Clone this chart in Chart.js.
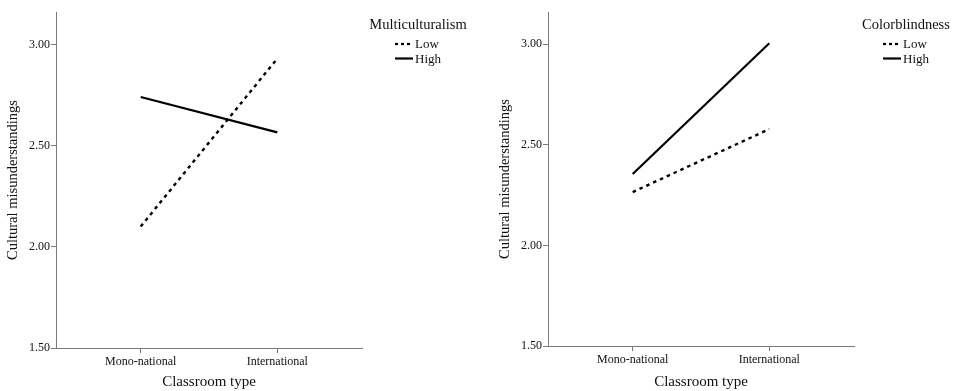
<!DOCTYPE html>
<html>
<head>
<meta charset="utf-8">
<script src="https://cdn.jsdelivr.net/npm/chart.js@4.4.1/dist/chart.umd.min.js"></script>
<style>
  html, body { margin: 0; padding: 0; background: #fff; }
  body { width: 955px; height: 391px; position: relative; overflow: hidden; }
  canvas { position: absolute; top: 0; }
</style>
</head>
<body>
<canvas id="c1" width="480" height="391" style="left:0px"></canvas>
<canvas id="c2" width="463" height="391" style="left:492px"></canvas>
<script>
// ---- data ----
const categories = ['Mono-national', 'International'];
const yTickValues = [1.5, 2.0, 2.5, 3.0];
const seriesLabels = ['Low', 'High'];
const multiculturalismLow = [2.10, 2.93];
const multiculturalismHigh = [2.74, 2.565];
const colorblindnessLow = [2.265, 2.578];
const colorblindnessHigh = [2.355, 3.005];
const xTitle = 'Classroom type';
const yTitle = 'Cultural misunderstandings';

const SERIF = '"Liberation Serif", "Times New Roman", serif';
const AXIS_COLOR = '#7a7a7a';
const TEXT_COLOR = '#111';

const legendPlugin = {
  id: 'sideLegend',
  afterDraw(chart) {
    const o = chart.options.plugins.sideLegend;
    if (!o) return;
    const ctx = chart.ctx;
    const r = chart.chartArea.right;
    ctx.save();
    ctx.fillStyle = TEXT_COLOR;
    ctx.font = '14.5px ' + SERIF;
    ctx.textAlign = 'center';
    ctx.textBaseline = 'middle';
    ctx.fillText(o.title, r + o.titleDx, 25);
    ctx.font = '13px ' + SERIF;
    ctx.textAlign = 'left';
    chart.data.datasets.forEach((ds, i) => {
      const y = 44 + i * 14.5;
      ctx.strokeStyle = '#000';
      ctx.lineWidth = 2.2;
      ctx.setLineDash(ds.borderDash ? [3, 3] : []);
      ctx.beginPath();
      ctx.moveTo(r + o.lineDx, y);
      ctx.lineTo(r + o.lineDx + 18, y);
      ctx.stroke();
      ctx.setLineDash([]);
      ctx.fillText(ds.label, r + o.lineDx + 20, y + 1);
    });
    ctx.restore();
  }
};

function makeChart(id, low, high, legendTitle, opts) {
  const toPts = arr => arr.map((v, i) => ({ x: i, y: v }));
  return new Chart(document.getElementById(id), {
    type: 'line',
    data: {
      datasets: [
        { label: seriesLabels[0], data: toPts(low), borderColor: '#000', borderWidth: 2.4,
          borderDash: [3.5, 4], pointRadius: 0, tension: 0, fill: false },
        { label: seriesLabels[1], data: toPts(high), borderColor: '#000', borderWidth: 2.2,
          pointRadius: 0, tension: 0, fill: false }
      ]
    },
    options: {
      responsive: false,
      animation: false,
      layout: { padding: { top: 12, right: opts.padRight, left: 0, bottom: 0 } },
      plugins: {
        legend: { display: false },
        tooltip: { enabled: false },
        sideLegend: { title: legendTitle, titleDx: opts.titleDx, lineDx: opts.lineDx }
      },
      scales: {
        x: {
          type: 'linear',
          min: -0.62, max: 1.62,
          afterBuildTicks: s => { s.ticks = categories.map((c, i) => ({ value: i })); },
          afterFit: s => { s.height = opts.xHeight; },
          ticks: {
            autoSkip: false, maxRotation: 0, padding: 2,
            color: TEXT_COLOR, font: { family: SERIF, size: 12 },
            callback: v => categories[v]
          },
          grid: { display: true, drawOnChartArea: false, drawTicks: true, tickLength: 5, color: AXIS_COLOR },
          border: { display: true, color: AXIS_COLOR, width: 1 },
          title: { display: true, text: xTitle, color: TEXT_COLOR,
                   font: { family: SERIF, size: 15 }, padding: { top: 0, bottom: 0 } }
        },
        y: {
          type: 'linear',
          min: 1.5, max: 3.16,
          afterBuildTicks: s => { s.ticks = yTickValues.map(v => ({ value: v })); },
          afterFit: s => { s.width = 56; },
          ticks: {
            padding: 1, color: TEXT_COLOR, font: { family: SERIF, size: 12 },
            callback: v => Number(v).toFixed(2)
          },
          grid: { display: true, drawOnChartArea: false, drawTicks: true, tickLength: 5, color: AXIS_COLOR },
          border: { display: true, color: AXIS_COLOR, width: 1 },
          title: { display: true, text: yTitle, color: TEXT_COLOR,
                   font: { family: SERIF, size: 14.5 }, padding: { top: 4, bottom: 0 } }
        }
      }
    },
    plugins: [legendPlugin]
  });
}

makeChart('c1', multiculturalismLow, multiculturalismHigh, 'Multiculturalism',
          { padRight: 118, xHeight: 43, titleDx: 56, lineDx: 33 });
makeChart('c2', colorblindnessLow, colorblindnessHigh, 'Colorblindness',
          { padRight: 101, xHeight: 45, titleDx: 52, lineDx: 29 });
</script>
</body>
</html>
